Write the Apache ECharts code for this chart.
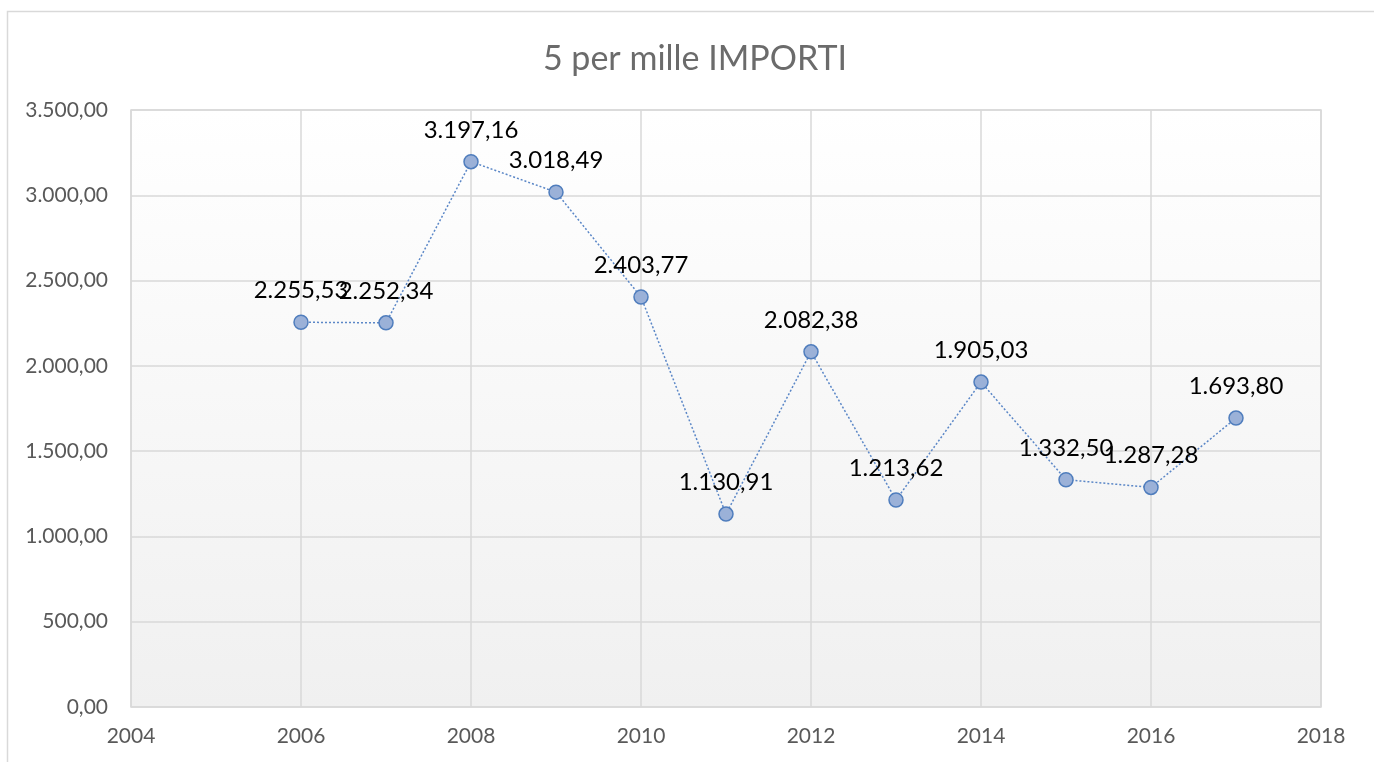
<!DOCTYPE html>
<html>
<head>
<meta charset="utf-8">
<script src="https://cdn.jsdelivr.net/npm/echarts@6/dist/echarts.min.js"></script>
<style>
  html, body { margin: 0; padding: 0; background: #fff; }
  #grafico { width: 1374px; height: 762px; }
</style>
</head>
<body>
<div id="grafico"></div>
<script>
// dati
const anni = [2006, 2007, 2008, 2009, 2010, 2011, 2012, 2013, 2014, 2015, 2016, 2017];
const importi = [2255.53, 2252.34, 3197.16, 3018.49, 2403.77, 1130.91, 2082.38, 1213.62, 1905.03, 1332.50, 1287.28, 1693.80];
const titolo = "5 per mille IMPORTI";

// formato italiano 1.234,56
function formatoIt(v) {
  const parti = v.toFixed(2).split(".");
  parti[0] = parti[0].replace(/\B(?=(\d{3})+(?!\d))/g, ".");
  return parti[0] + "," + parti[1];
}

const font = "Lato, 'Open Sans', sans-serif";
const grigio = "#d9d9d9";

const option = {
  backgroundColor: "#fff",
  animation: false,
  graphic: [
    {
      type: "rect",
      shape: { x: 7.5, y: 11.5, width: 1400, height: 800 },
      style: { fill: "none", stroke: grigio, lineWidth: 1.5 },
      silent: true,
      z: -10,
    },
  ],
  title: {
    text: titolo,
    left: 690,
    top: 37,
    textAlign: "center",
    textStyle: { color: "#6b6b6b", fontFamily: font, fontSize: 34, fontWeight: "normal" },
  },
  grid: {
    left: 131,
    right: 53,
    top: 110,
    bottom: 55,
    show: true,
    borderColor: grigio,
    borderWidth: 1.5,
    backgroundColor: new echarts.graphic.LinearGradient(0, 0, 0, 1, [
      { offset: 0, color: "#ffffff" },
      { offset: 1, color: "#f0f0f0" },
    ]),
  },
  xAxis: {
    type: "value",
    min: 2004,
    max: 2018,
    interval: 2,
    axisLine: { show: false },
    axisTick: { show: false },
    axisLabel: {
      color: "#595959",
      fontFamily: font,
      fontSize: 21,
      margin: 19,
      formatter: (v) => String(v),
    },
    splitLine: { show: true, lineStyle: { color: grigio, width: 1.5 } },
  },
  yAxis: {
    type: "value",
    min: 0,
    max: 3500,
    interval: 500,
    axisLine: { show: false },
    axisTick: { show: false },
    axisLabel: {
      color: "#595959",
      fontFamily: font,
      fontSize: 21,
      margin: 23,
      formatter: (v) => formatoIt(v),
    },
    splitLine: { show: true, lineStyle: { color: grigio, width: 1.5 } },
  },
  series: [
    {
      type: "line",
      data: anni.map((a, i) => [a, importi[i]]),
      symbol: "circle",
      symbolSize: 14,
      itemStyle: { color: "#9bb1d8", borderColor: "#4f7dbd", borderWidth: 1.5 },
      lineStyle: { color: "#5b87c7", width: 1.5, type: [2, 2] },
      label: {
        show: true,
        position: "top",
        distance: 12,
        color: "#000",
        fontFamily: font,
        fontSize: 24,
        formatter: (p) => formatoIt(p.value[1]),
      },
      labelLayout: { hideOverlap: false },
    },
  ],
};

const miGrafico = echarts.init(document.getElementById("grafico"));
miGrafico.setOption(option);
</script>
</body>
</html>
